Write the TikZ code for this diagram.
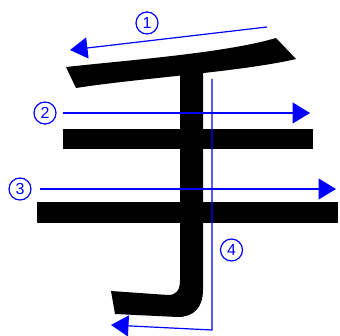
\documentclass[tikz,border=0pt]{standalone}
\usepackage{fontspec}
\setsansfont{Liberation Sans}
\usetikzlibrary{arrows.meta}
\definecolor{strokeblue}{RGB}{0,0,255}
\begin{document}
\begin{tikzpicture}[x=1pt,y=-1pt,
  ink/.style={fill=black, draw=none},
  guide/.style={draw=strokeblue, line width=1.2pt, -{Triangle[length=17.5pt,width=21pt]}},
  num/.style={circle, draw=strokeblue, line width=1.2pt, text=strokeblue, minimum size=22pt, inner sep=0pt, font=\sffamily\fontsize{16}{16}\selectfont}]
\useasboundingbox (0,0) rectangle (340,335);
% black strokes of the character
\fill[ink] (66,67) -- (76,88) .. controls (140,78) and (240,72) .. (296,59)
  -- (276,38) .. controls (225,53) and (130,60) .. (66,67) -- cycle;
\fill[ink] (180,70) -- (180,280) .. controls (180,291) and (176,295) .. (168,295)
  -- (111,291) -- (115,314) -- (178,317) .. controls (194,317) and (203,307) .. (203,290)
  -- (203,70) -- cycle;
\fill[ink] (63,129) rectangle (313,149);
\fill[ink] (37,202) rectangle (338,223);
% guides
\coordinate (s1) at (267,27);
\coordinate (e1) at (70,50);
\coordinate (s2) at (63,113);
\coordinate (e2) at (310,113);
\coordinate (s3) at (40,189);
\coordinate (e3) at (336,189);
\coordinate (s4) at (212,79);
\coordinate (c4) at (212,330);
\coordinate (e4) at (111,325);
\draw[guide] (s1) -- (e1);
\draw[guide] (s2) -- (e2);
\draw[guide] (s3) -- (e3);
\draw[guide] (s4) -- (c4) -- (e4);
% labels
\node[num] (n1) at (147,23) {1};
\node[num] (n2) at (45,113) {2};
\node[num] (n3) at (20,189) {3};
\node[num] (n4) at (231.5,250) {4};
\end{tikzpicture}
\end{document}
